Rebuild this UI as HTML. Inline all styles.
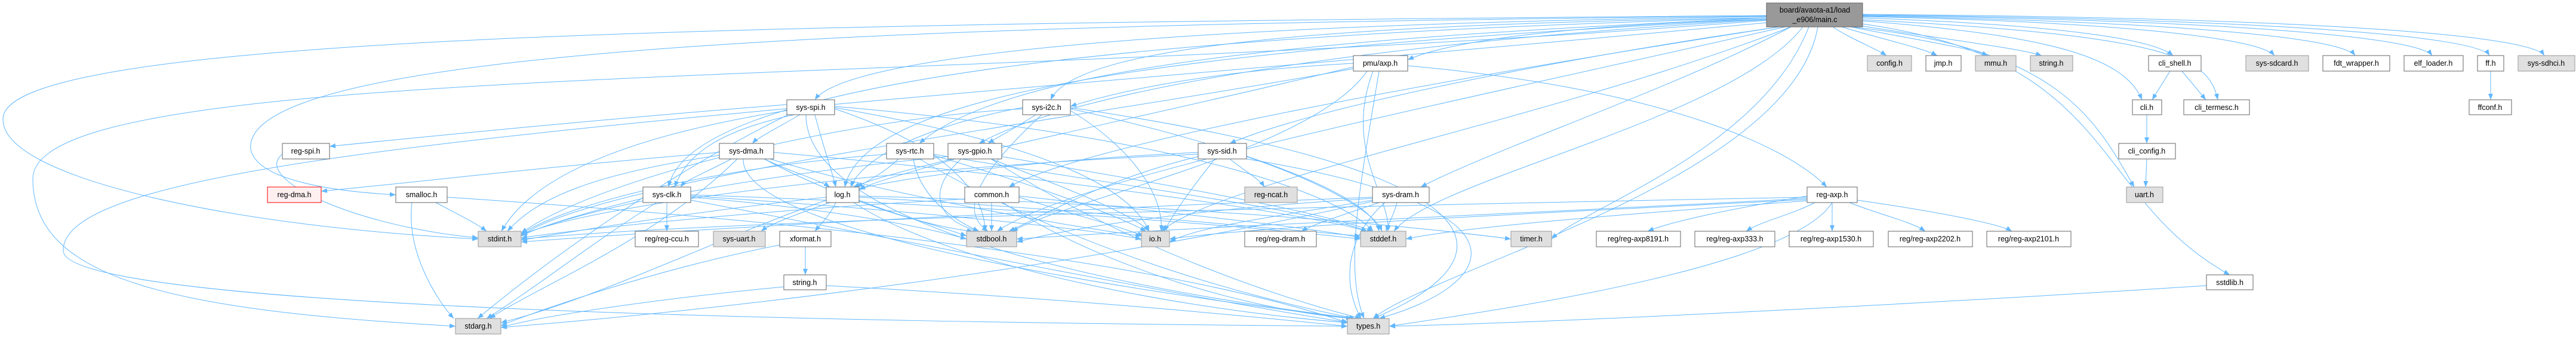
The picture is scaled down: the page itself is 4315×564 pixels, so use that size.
<!DOCTYPE html>
<html><head><meta charset="utf-8"><style>
html,body{margin:0;padding:0;background:#fff;}
svg{display:block;}
text{font-family:"Liberation Sans",sans-serif;font-size:12.5px;fill:#000;}
.w{fill:#fff;stroke:#666;stroke-width:1;}
.g{fill:#e0e0e0;stroke:#999;stroke-width:1;}
.r{fill:#fff0f0;stroke:#ff0000;stroke-width:1;}
.m{fill:#999;stroke:#666;stroke-width:1;}
path.e{fill:none;stroke:#63b8ff;stroke-width:1;marker-end:url(#a);}
</style></head><body>
<svg width="4315" height="564" viewBox="0 0 4315 564" xmlns="http://www.w3.org/2000/svg">
<defs><marker id="a" markerUnits="userSpaceOnUse" markerWidth="11" markerHeight="8" refX="10" refY="4" orient="auto"><path d="M0,0 L10,4 L0,8 z" fill="#63b8ff"/></marker></defs>
<g>
<!-- main edges -->
<path class="e" d="M3070,45 C3100,65 3140,80 3160,93"/>
<path class="e" d="M3085,45 C3150,65 3220,80 3245,93"/>
<path class="e" d="M3100,45 C3200,65 3300,80 3330,93"/>
<path class="e" d="M3110,42 C3250,65 3380,80 3420,93"/>
<path class="e" d="M3120,30 C3400,40 3600,60 3640,93"/>
<path class="e" d="M3120,28 C3500,35 3780,60 3810,93"/>
<path class="e" d="M3120,27 C3600,35 3920,60 3945,93"/>
<path class="e" d="M3120,26 C3700,33 4050,60 4074,93"/>
<path class="e" d="M3120,25 C3800,32 4150,60 4170,93"/>
<path class="e" d="M3120,24 C3900,30 4240,60 4262,93"/>
<path class="e" d="M3120,35 C3450,60 3560,100 3588,167"/>
<path class="e" d="M3120,33 C3650,60 3700,100 3715,167"/>
<path class="e" d="M3100,45 C3450,80 3510,200 3575,313"/>
<path class="e" d="M3120,40 C3550,100 3500,330 3735,460"/>
<path class="e" d="M2959,32 C2700,40 2450,60 2358,100"/>
<path class="e" d="M2959,30 C2200,40 1800,80 1760,167"/>
<path class="e" d="M2959,28 C2000,40 1420,90 1365,167"/>
<path class="e" d="M2959,30 C2300,60 1700,100 1540,240"/>
<path class="e" d="M2959,33 C2300,70 1800,150 1640,240"/>
<path class="e" d="M2980,45 C2600,100 2200,180 2060,240"/>
<path class="e" d="M2959,27 C1500,40 400,80 420,250 C430,300 550,320 663,326"/>
<path class="e" d="M2959,30 C1800,60 1150,150 1120,313"/>
<path class="e" d="M2959,32 C2000,80 1450,150 1415,313"/>
<path class="e" d="M2980,45 C2300,150 1800,250 1690,313"/>
<path class="e" d="M3000,45 C2800,150 2500,250 2380,313"/>
<path class="e" d="M2959,26 C1200,40 0,60 5,200 C5,300 400,380 801,400"/>
<path class="e" d="M2959,34 C1500,150 50,100 55,300 C55,470 300,520 763,546"/>
<path class="e" d="M2959,38 C1200,200 100,250 106,420 C110,520 1500,540 2257,546"/>
<path class="e" d="M2990,45 C2300,200 1800,300 1670,387"/>
<path class="e" d="M3000,45 C2600,200 2050,300 1945,387"/>
<path class="e" d="M3020,45 C2900,200 2400,300 2335,387"/>
<path class="e" d="M3030,45 C2950,250 2650,350 2599,400"/>
<path class="e" d="M3045,45 C3000,300 2400,450 2300,533"/>
<!-- pmu/axp -->
<path class="e" d="M2358,110 C2800,150 3000,250 3060,313"/>
<path class="e" d="M2267,106 C2000,120 1850,160 1793,178"/>
<path class="e" d="M2267,115 C1800,200 1000,300 873,395"/>
<path class="e" d="M2290,119 C2200,250 1800,330 1695,387"/>
<path class="e" d="M2300,119 C2250,250 2330,330 2325,387"/>
<path class="e" d="M2310,119 C2280,300 2250,450 2285,533"/>
<path class="e" d="M2267,112 C1900,200 1500,280 1430,313"/>
<!-- reg-axp -->
<path class="e" d="M3027,328 C2900,350 2800,370 2760,387"/>
<path class="e" d="M3040,339 C3000,360 2950,370 2925,387"/>
<path class="e" d="M3069,339 L3069,387"/>
<path class="e" d="M3098,339 C3150,360 3200,370 3225,387"/>
<path class="e" d="M3111,335 C3250,355 3350,375 3370,387"/>
<path class="e" d="M3027,330 C2000,350 1200,370 873,400"/>
<path class="e" d="M3027,332 C2500,360 2000,380 1703,400"/>
<path class="e" d="M3027,334 C2500,360 2100,380 1959,400"/>
<path class="e" d="M3027,336 C2700,360 2450,380 2355,400"/>
<path class="e" d="M3069,339 C3000,450 2500,520 2327,546"/>
<!-- sys-spi -->
<path class="e" d="M1318,175 C1000,200 700,230 552,245"/>
<path class="e" d="M1340,192 C1300,215 1270,230 1260,240"/>
<path class="e" d="M1330,192 C1200,220 1150,260 1130,313"/>
<path class="e" d="M1365,192 C1380,250 1395,290 1400,313"/>
<path class="e" d="M1318,185 C1100,220 900,280 840,387"/>
<path class="e" d="M1398,182 C1600,250 1650,330 1650,387"/>
<path class="e" d="M1398,180 C1800,250 1900,330 1925,387"/>
<path class="e" d="M1398,178 C2000,230 2250,330 2300,387"/>
<path class="e" d="M1350,192 C1350,400 2000,500 2270,533"/>
<path class="e" d="M1320,192 C1100,300 900,450 800,533"/>
<!-- sys-dma -->
<path class="e" d="M1205,255 C900,280 700,305 538,320"/>
<path class="e" d="M1225,266 C1180,290 1150,300 1140,313"/>
<path class="e" d="M1280,266 C1330,290 1370,300 1390,313"/>
<path class="e" d="M1205,260 C1000,290 900,330 850,387"/>
<path class="e" d="M1280,266 C1400,330 1550,380 1630,387"/>
<path class="e" d="M1290,266 C1500,330 1800,380 1912,395"/>
<path class="e" d="M1296,255 C1800,300 2200,360 2290,387"/>
<path class="e" d="M1245,266 C1240,400 2000,500 2265,533"/>
<path class="e" d="M1235,266 C1100,400 900,480 820,533"/>
<!-- sys-clk -->
<path class="e" d="M1117,339 L1117,387"/>
<path class="e" d="M1077,332 C1000,350 900,380 873,395"/>
<path class="e" d="M1157,330 C1400,350 1550,380 1619,400"/>
<path class="e" d="M1157,328 C1500,350 1800,380 1912,400"/>
<path class="e" d="M1157,326 C1700,345 2100,380 2279,400"/>
<path class="e" d="M1157,335 C1500,400 2000,500 2260,540"/>
<path class="e" d="M1100,339 C1000,400 900,480 815,533"/>
<!-- log -->
<path class="e" d="M1390,339 C1330,360 1290,375 1275,387"/>
<path class="e" d="M1400,339 C1390,360 1375,375 1365,387"/>
<path class="e" d="M1384,330 C1200,350 1000,380 873,402"/>
<path class="e" d="M1439,335 C1500,360 1580,380 1619,395"/>
<path class="e" d="M1439,330 C1800,350 2100,380 2279,395"/>
<path class="e" d="M1439,328 C1900,340 2300,370 2531,400"/>
<path class="e" d="M1430,339 C1600,450 2000,520 2257,540"/>
<path class="e" d="M1384,335 C1200,400 1000,500 839,540"/>
<!-- xformat/string -->
<path class="e" d="M1349,413 L1349,460"/>
<path class="e" d="M1306,410 C1100,450 900,520 839,545"/>
<path class="e" d="M1313,480 C1100,500 900,530 839,548"/>
<path class="e" d="M1384,478 C1800,500 2100,530 2257,546"/>
<!-- sys-i2c -->
<path class="e" d="M1735,192 C1700,215 1670,230 1655,240"/>
<path class="e" d="M1745,192 C1650,280 1600,350 1655,387"/>
<path class="e" d="M1713,182 C1400,200 1000,300 873,390"/>
<path class="e" d="M1793,185 C1900,250 1950,330 1945,387"/>
<path class="e" d="M1793,182 C2100,250 2300,330 2310,387"/>
<path class="e" d="M1793,180 C2600,300 2500,450 2300,533"/>
<path class="e" d="M1713,180 C1600,200 1450,250 1425,313"/>
<!-- sys-rtc -->
<path class="e" d="M1505,266 C1480,290 1450,305 1435,313"/>
<path class="e" d="M1530,266 C1540,330 1600,370 1640,387"/>
<path class="e" d="M1564,260 C1700,300 1850,350 1920,387"/>
<path class="e" d="M1485,258 C1200,280 950,340 873,392"/>
<path class="e" d="M1564,258 C1800,300 2200,350 2290,387"/>
<path class="e" d="M1540,266 C1800,420 2100,500 2270,533"/>
<!-- sys-gpio -->
<path class="e" d="M1600,266 C1520,290 1460,305 1439,318"/>
<path class="e" d="M1610,266 C1550,320 1570,370 1640,387"/>
<path class="e" d="M1660,266 C1800,320 1900,360 1925,387"/>
<path class="e" d="M1588,262 C1300,290 1000,340 873,394"/>
<path class="e" d="M1678,262 C1900,300 2200,350 2300,387"/>
<path class="e" d="M1660,266 C1900,420 2150,500 2280,533"/>
<!-- common -->
<path class="e" d="M1661,339 L1661,387"/>
<path class="e" d="M1680,339 C1850,450 2100,520 2265,533"/>
<path class="e" d="M1616,333 C1300,350 1000,380 873,398"/>
<path class="e" d="M1707,330 C1800,360 1880,380 1915,395"/>
<path class="e" d="M1707,328 C1900,350 2200,380 2279,398"/>
<!-- sys-sid -->
<path class="e" d="M2060,266 C2090,290 2110,300 2118,313"/>
<path class="e" d="M2035,266 C2000,310 1970,350 1950,387"/>
<path class="e" d="M2007,262 C1850,300 1750,360 1690,387"/>
<path class="e" d="M2007,258 C1500,280 1000,340 873,393"/>
<path class="e" d="M2088,262 C2200,300 2300,350 2315,387"/>
<path class="e" d="M2007,255 C1700,270 1500,300 1439,316"/>
<path class="e" d="M2088,266 C2600,350 2500,480 2310,533"/>
<!-- sys-dram -->
<path class="e" d="M2310,339 C2250,360 2200,375 2180,387"/>
<path class="e" d="M2340,339 C2335,360 2325,375 2322,387"/>
<path class="e" d="M2320,339 C2250,400 2250,480 2280,533"/>
<path class="e" d="M2299,330 C1800,350 1200,380 873,405"/>
<path class="e" d="M2299,332 C2000,350 1800,380 1703,405"/>
<path class="e" d="M2299,335 C2150,360 2000,380 1959,405"/>
<path class="e" d="M2299,337 C1800,450 1200,520 839,548"/>
<!-- smalloc, reg-spi -->
<path class="e" d="M730,339 C770,360 800,375 815,387"/>
<path class="e" d="M749,330 C1200,360 1900,420 2257,540"/>
<path class="e" d="M690,339 C680,420 730,500 760,533"/>
<path class="e" d="M473,258 C420,300 600,380 801,398"/>
<!-- right side -->
<path class="e" d="M3635,119 L3605,167"/>
<path class="e" d="M3655,119 L3695,167"/>
<path class="e" d="M3596,192 L3596,240"/>
<path class="e" d="M3596,266 L3594,313"/>
<path class="e" d="M4172,119 L4172,167"/>
<path class="e" d="M3696,478 C3200,510 2600,540 2327,546"/>
</g>
<!-- nodes -->
<g>
<rect class="m" x="2959" y="5" width="161" height="40"/><text x="3040" y="21" text-anchor="middle">board/avaota-a1/load</text><text x="3040" y="37" text-anchor="middle">_e906/main.c</text>

<rect class="w" x="2267" y="93" width="91" height="26"/><text x="2312" y="110" text-anchor="middle">pmu/axp.h</text>
<rect class="g" x="3128" y="93" width="74" height="26"/><text x="3165" y="110" text-anchor="middle">config.h</text>
<rect class="w" x="3226" y="93" width="59" height="26"/><text x="3255" y="110" text-anchor="middle">jmp.h</text>
<rect class="g" x="3309" y="93" width="68" height="26"/><text x="3343" y="110" text-anchor="middle">mmu.h</text>
<rect class="g" x="3401" y="93" width="71" height="26"/><text x="3436" y="110" text-anchor="middle">string.h</text>
<rect class="w" x="3599" y="93" width="88" height="26"/><text x="3643" y="110" text-anchor="middle">cli_shell.h</text>
<rect class="g" x="3762" y="93" width="105" height="26"/><text x="3814" y="110" text-anchor="middle">sys-sdcard.h</text>
<rect class="w" x="3891" y="93" width="112" height="26"/><text x="3947" y="110" text-anchor="middle">fdt_wrapper.h</text>
<rect class="w" x="4027" y="93" width="99" height="26"/><text x="4076" y="110" text-anchor="middle">elf_loader.h</text>
<rect class="w" x="4150" y="93" width="44" height="26"/><text x="4172" y="110" text-anchor="middle">ff.h</text>
<rect class="g" x="4218" y="93" width="95" height="26"/><text x="4265" y="110" text-anchor="middle">sys-sdhci.h</text>

<rect class="w" x="1318" y="167" width="80" height="25"/><text x="1358" y="184" text-anchor="middle">sys-spi.h</text>
<rect class="w" x="1713" y="167" width="80" height="25"/><text x="1753" y="184" text-anchor="middle">sys-i2c.h</text>
<rect class="w" x="3572" y="167" width="49" height="25"/><text x="3596" y="184" text-anchor="middle">cli.h</text>
<rect class="w" x="3658" y="167" width="110" height="25"/><text x="3713" y="184" text-anchor="middle">cli_termesc.h</text>
<rect class="w" x="4136" y="167" width="71" height="25"/><text x="4171" y="184" text-anchor="middle">ffconf.h</text>

<rect class="w" x="473" y="240" width="79" height="26"/><text x="512" y="257" text-anchor="middle">reg-spi.h</text>
<rect class="w" x="1205" y="240" width="91" height="26"/><text x="1250" y="257" text-anchor="middle">sys-dma.h</text>
<rect class="w" x="1485" y="240" width="79" height="26"/><text x="1524" y="257" text-anchor="middle">sys-rtc.h</text>
<rect class="w" x="1588" y="240" width="90" height="26"/><text x="1633" y="257" text-anchor="middle">sys-gpio.h</text>
<rect class="w" x="2007" y="240" width="81" height="26"/><text x="2047" y="257" text-anchor="middle">sys-sid.h</text>
<rect class="w" x="3549" y="240" width="95" height="26"/><text x="3596" y="257" text-anchor="middle">cli_config.h</text>

<rect class="r" x="448" y="313" width="90" height="26"/><text x="493" y="330" text-anchor="middle">reg-dma.h</text>
<rect class="w" x="663" y="313" width="86" height="26"/><text x="706" y="330" text-anchor="middle">smalloc.h</text>
<rect class="w" x="1077" y="313" width="80" height="26"/><text x="1117" y="330" text-anchor="middle">sys-clk.h</text>
<rect class="w" x="1384" y="313" width="55" height="26"/><text x="1411" y="330" text-anchor="middle">log.h</text>
<rect class="w" x="1616" y="313" width="91" height="26"/><text x="1661" y="330" text-anchor="middle">common.h</text>
<rect class="g" x="2085" y="313" width="88" height="26"/><text x="2129" y="330" text-anchor="middle">reg-ncat.h</text>
<rect class="w" x="2299" y="313" width="95" height="26"/><text x="2346" y="330" text-anchor="middle">sys-dram.h</text>
<rect class="w" x="3027" y="313" width="84" height="26"/><text x="3069" y="330" text-anchor="middle">reg-axp.h</text>
<rect class="g" x="3562" y="313" width="61" height="26"/><text x="3592" y="330" text-anchor="middle">uart.h</text>

<rect class="g" x="801" y="387" width="72" height="26"/><text x="837" y="404" text-anchor="middle">stdint.h</text>
<rect class="w" x="1064" y="387" width="106" height="26"/><text x="1117" y="404" text-anchor="middle">reg/reg-ccu.h</text>
<rect class="g" x="1195" y="387" width="87" height="26"/><text x="1238" y="404" text-anchor="middle">sys-uart.h</text>
<rect class="w" x="1306" y="387" width="86" height="26"/><text x="1349" y="404" text-anchor="middle">xformat.h</text>
<rect class="g" x="1619" y="387" width="84" height="26"/><text x="1661" y="404" text-anchor="middle">stdbool.h</text>
<rect class="g" x="1912" y="387" width="47" height="26"/><text x="1935" y="404" text-anchor="middle">io.h</text>
<rect class="w" x="2085" y="387" width="120" height="26"/><text x="2145" y="404" text-anchor="middle">reg/reg-dram.h</text>
<rect class="g" x="2279" y="387" width="76" height="26"/><text x="2317" y="404" text-anchor="middle">stddef.h</text>
<rect class="g" x="2531" y="387" width="68" height="26"/><text x="2565" y="404" text-anchor="middle">timer.h</text>
<rect class="w" x="2674" y="387" width="141" height="26"/><text x="2744" y="404" text-anchor="middle">reg/reg-axp8191.h</text>
<rect class="w" x="2839" y="387" width="134" height="26"/><text x="2906" y="404" text-anchor="middle">reg/reg-axp333.h</text>
<rect class="w" x="2997" y="387" width="141" height="26"/><text x="3067" y="404" text-anchor="middle">reg/reg-axp1530.h</text>
<rect class="w" x="3163" y="387" width="141" height="26"/><text x="3233" y="404" text-anchor="middle">reg/reg-axp2202.h</text>
<rect class="w" x="3328" y="387" width="141" height="26"/><text x="3398" y="404" text-anchor="middle">reg/reg-axp2101.h</text>

<rect class="w" x="1313" y="460" width="71" height="25"/><text x="1348" y="477" text-anchor="middle">string.h</text>
<rect class="w" x="3696" y="460" width="78" height="25"/><text x="3735" y="477" text-anchor="middle">sstdlib.h</text>

<rect class="g" x="763" y="533" width="76" height="26"/><text x="801" y="550" text-anchor="middle">stdarg.h</text>
<rect class="g" x="2257" y="533" width="70" height="26"/><text x="2292" y="550" text-anchor="middle">types.h</text>
</g>
</svg>
</body></html>
